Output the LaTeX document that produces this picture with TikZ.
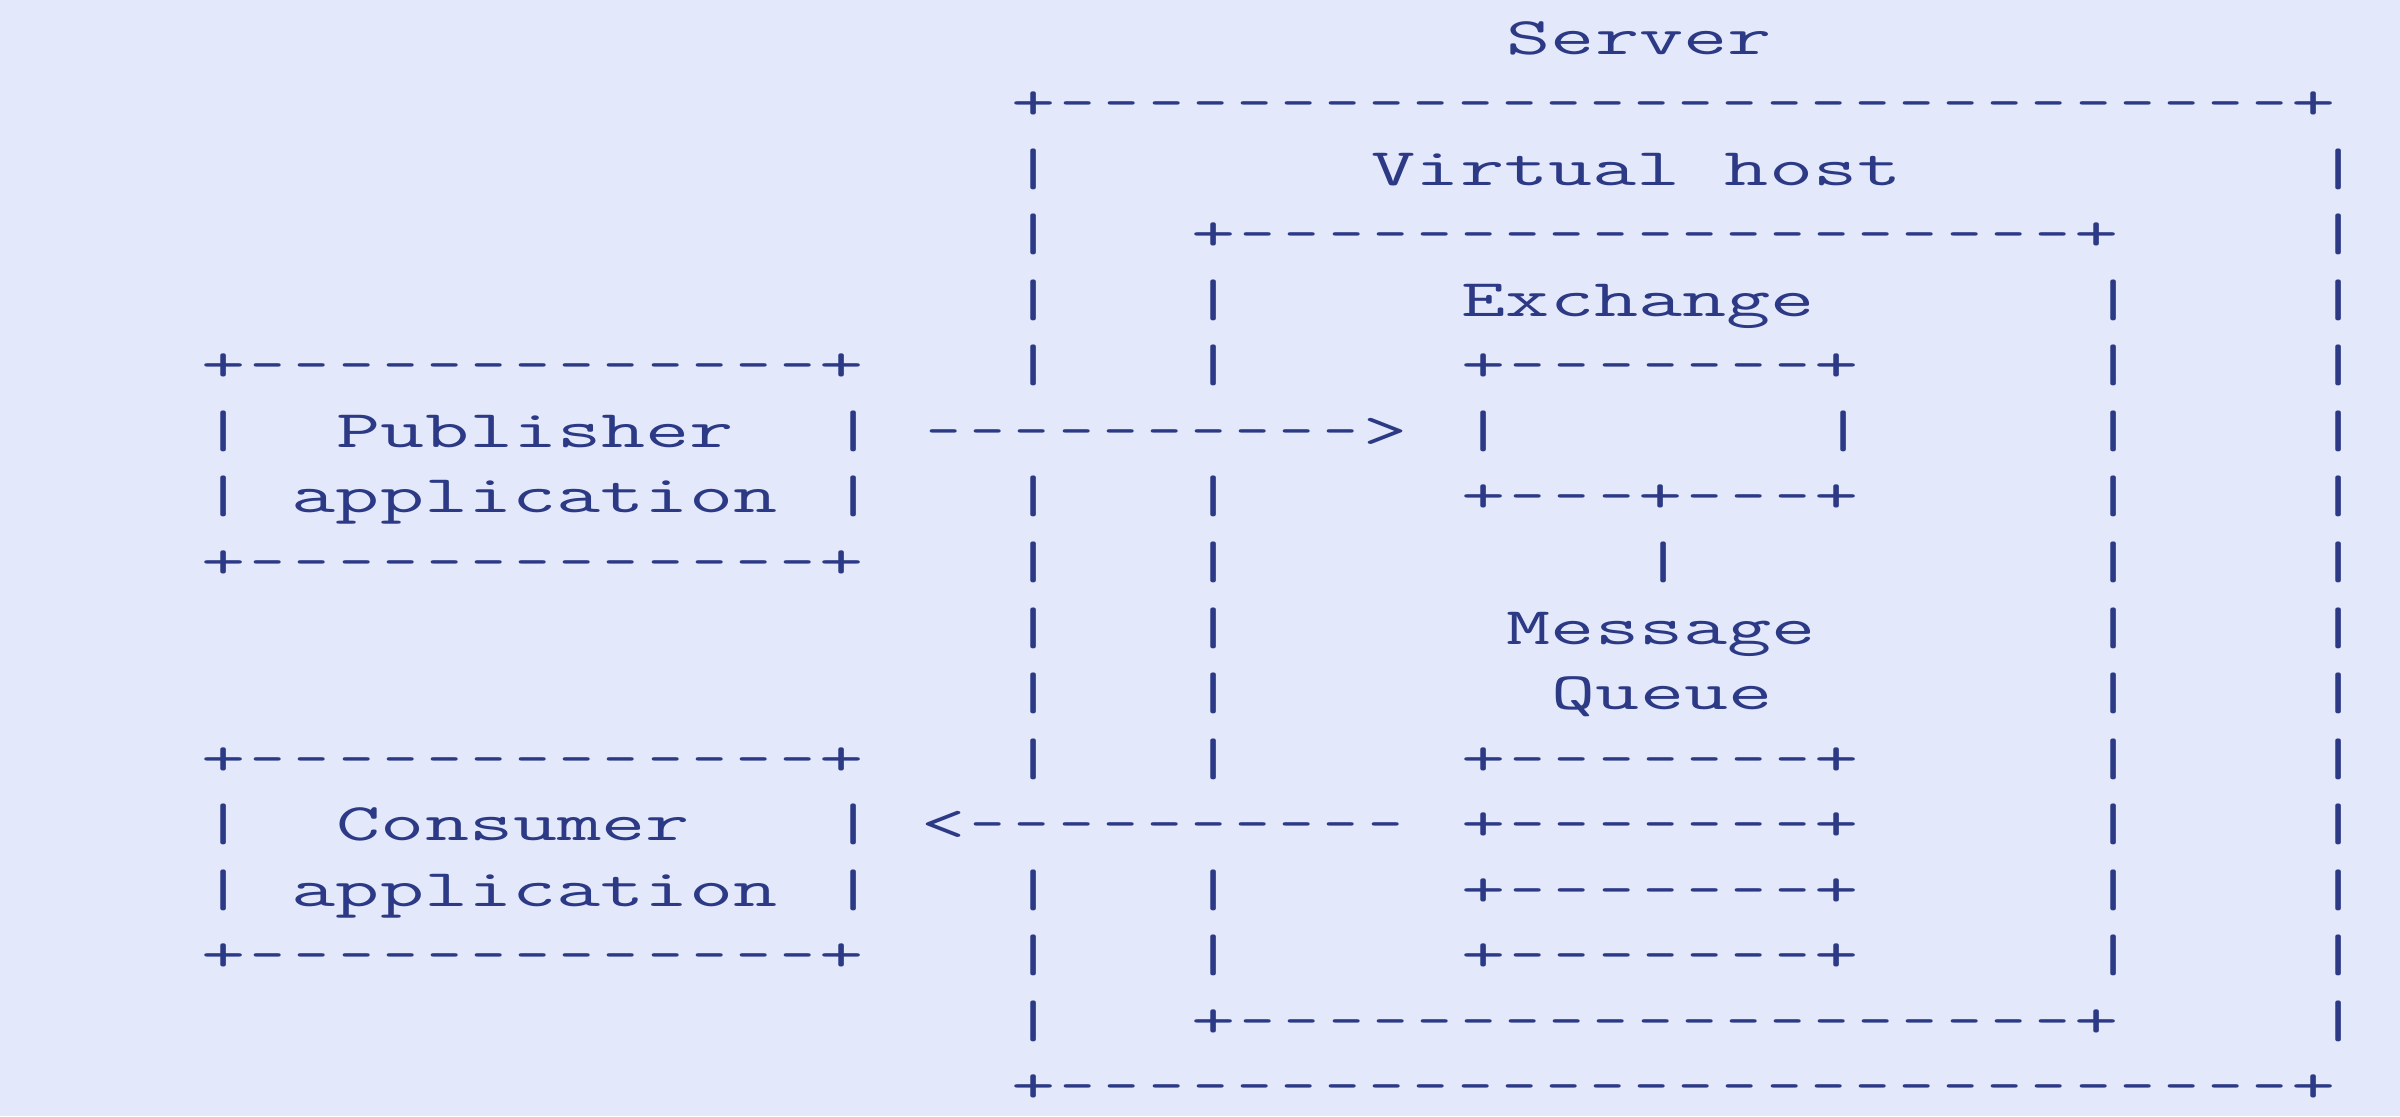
\documentclass[tikz,border=0pt]{standalone}
\usepackage{graphicx}
\usepackage{tikz}
\definecolor{ink}{RGB}{44,58,134}
\definecolor{paper}{RGB}{227,232,250}
\newcommand{\wide}[1]{\scalebox{1.626}[1]{#1}}
\newcommand{\dashes}[1]{\foreach \i in {1,...,#1}{\hbox to \fontcharwd\font`\-{\hss\scalebox{0.78}[1]{-}\hss}}}

\begin{document}
\begin{tikzpicture}[x=0.45cm, y=-0.6556cm]
	\tikzstyle{asc}=[inner sep=0pt, anchor=base west, text=ink, font=\ttfamily\fontsize{15}{15}\selectfont]

	\fill[paper] (0.533,-0.8237) rectangle (53.867,16.199);

	% server box
	\node[asc] (srvtitle) at (34,0) {\wide{Server}};
	\node[asc] (srvtop) at (23,1) {\wide{+\dashes{28}+}};
	\node[asc] (srvbot) at (23,16) {\wide{+\dashes{28}+}};
	\foreach \r in {2,...,15}{
		\node[asc] (srvR\r) at (52,\r) {\wide{|}};
	}
	\foreach \r in {2,3,4,5,7,8,9,10,11,13,14,15}{
		\node[asc] (srvL\r) at (23,\r) {\wide{|}};
	}

	% virtual host box
	\node[asc] (vhtitle) at (31,2) {\wide{Virtual host}};
	\node[asc] (vhtop) at (27,3) {\wide{+\dashes{19}+}};
	\node[asc] (vhbot) at (27,15) {\wide{+\dashes{19}+}};
	\foreach \r in {4,...,14}{
		\node[asc] (vhR\r) at (47,\r) {\wide{|}};
	}
	\foreach \r in {4,5,7,8,9,10,11,13,14}{
		\node[asc] (vhL\r) at (27,\r) {\wide{|}};
	}

	% exchange and queue
	\node[asc] (extitle) at (33,4) {\wide{Exchange}};
	\node[asc] (extop) at (33,5) {\wide{+\dashes{7}+}};
	\node[asc] (exL) at (33,6) {\wide{|}};
	\node[asc] (exR) at (41,6) {\wide{|}};
	\node[asc] (exbot) at (33,7) {\wide{+\dashes{3}+\dashes{3}+}};
	\node[asc] (bind) at (37,8) {\wide{|}};
	\node[asc] (qtitle) at (34,9) {\wide{Message}};
	\node[asc] (qtitle2) at (35,10) {\wide{Queue}};
	\foreach \r in {11,...,14}{
		\node[asc] (q\r) at (33,\r) {\wide{+\dashes{7}+}};
	}

	% publisher
	\node[asc] (pubtop) at (5,5) {\wide{+\dashes{13}+}};
	\node[asc] (pubL) at (5,6) {\wide{|}};
	\node[asc] (pubname) at (8,6) {\wide{Publisher}};
	\node[asc] (pubR) at (19,6) {\wide{|}};
	\node[asc] (pubL2) at (5,7) {\wide{|}};
	\node[asc] (pubname2) at (7,7) {\wide{application}};
	\node[asc] (pubR2) at (19,7) {\wide{|}};
	\node[asc] (pubbot) at (5,8) {\wide{+\dashes{13}+}};
	\node[asc] (pubarrow) at (21,6) {\wide{\dashes{10}>}};

	% consumer
	\node[asc] (contop) at (5,11) {\wide{+\dashes{13}+}};
	\node[asc] (conL) at (5,12) {\wide{|}};
	\node[asc] (conname) at (8,12) {\wide{Consumer}};
	\node[asc] (conR) at (19,12) {\wide{|}};
	\node[asc] (conL2) at (5,13) {\wide{|}};
	\node[asc] (conname2) at (7,13) {\wide{application}};
	\node[asc] (conR2) at (19,13) {\wide{|}};
	\node[asc] (conbot) at (5,14) {\wide{+\dashes{13}+}};
	\node[asc] (conarrow) at (21,12) {\wide{<\dashes{10}}};
\end{tikzpicture}
\end{document}
